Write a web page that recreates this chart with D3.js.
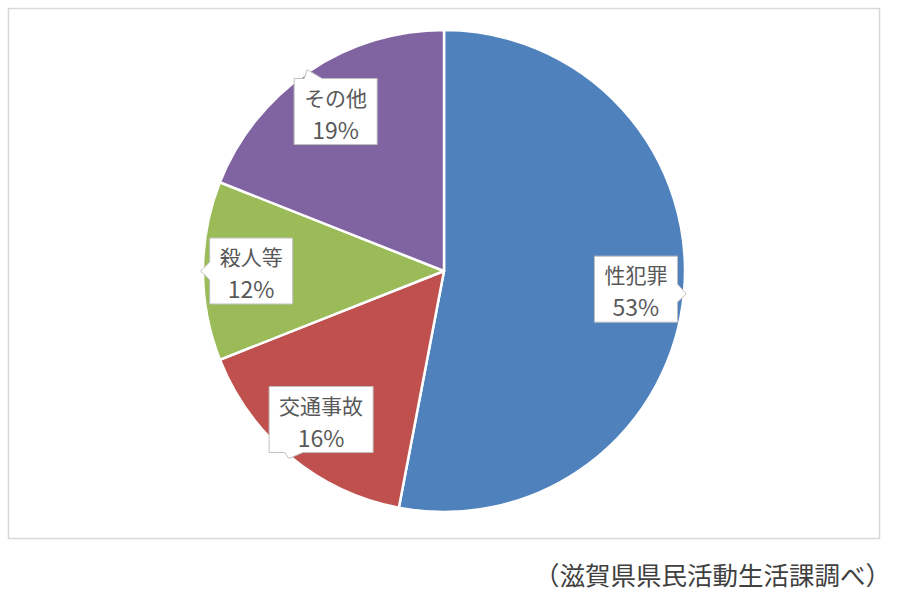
<!DOCTYPE html>
<html><head><meta charset="utf-8">
<script src="https://cdn.jsdelivr.net/npm/d3@7/dist/d3.min.js"></script>
<style>
html,body{margin:0;padding:0;background:#fff;}
svg{display:block;font-family:"Noto Sans CJK JP","Noto Sans",sans-serif;}
</style></head>
<body>
<svg id="chart" width="900" height="601"></svg>
<script>
const categories = ["性犯罪", "交通事故", "殺人等", "その他"];
const values = [53, 16, 12, 19];
const percentLabels = ["53%", "16%", "12%", "19%"];
const colors = ["#4F81BD", "#C0504D", "#9BBB59", "#8064A2"];
const caption = "（滋賀県県民活動生活課調べ）";

const svg = d3.select("#chart");
const cx = 444, cy = 271, R = 241;

// outer frame
svg.append("rect").attr("x", 8.5).attr("y", 8.5).attr("width", 871).attr("height", 530)
  .attr("fill", "#fff").attr("stroke", "#d9d9d9").attr("stroke-width", 1.5);

const pie = d3.pie().sort(null).value(d => d)(values);
const arc = d3.arc().innerRadius(0).outerRadius(R);
const g = svg.append("g").attr("transform", `translate(${cx},${cy})`);

g.selectAll("path.slice").data(pie).enter().append("path")
  .attr("class", "slice")
  .attr("d", arc)
  .attr("fill", (d, i) => colors[i])
  .attr("stroke", "#fff").attr("stroke-width", 2.5).attr("stroke-linejoin", "round");

// callout labels
const labelArc = d3.arc().innerRadius(R * 0.8).outerRadius(R * 0.8);
const tipR = R * 1.01;

function calloutPath(x0, y0, x1, y1, tx, ty) {
  const mx = (x0 + x1) / 2, my = (y0 + y1) / 2;
  const dx = tx - mx, dy = ty - my;
  const hw = (x1 - x0) / 2, hh = (y1 - y0) / 2;
  const bw = 9;
  let side;
  if (Math.abs(dx) / hw > Math.abs(dy) / hh) side = dx > 0 ? "right" : "left";
  else side = dy > 0 ? "bottom" : "top";
  const clampX = v => Math.max(x0 + bw + 4, Math.min(x1 - bw - 4, v));
  const clampY = v => Math.max(y0 + bw + 4, Math.min(y1 - bw - 4, v));
  const pts = [];
  pts.push([x0, y0]);
  if (side === "top") { const c = clampX(mx + dx * hh / Math.abs(dy)); pts.push([c - bw, y0], [tx, ty], [c + bw, y0]); }
  pts.push([x1, y0]);
  if (side === "right") { const c = clampY(my + dy * hw / Math.abs(dx)); pts.push([x1, c - bw], [tx, ty], [x1, c + bw]); }
  pts.push([x1, y1]);
  if (side === "bottom") { const c = clampX(mx + dx * hh / Math.abs(dy)); pts.push([c + bw, y1], [tx, ty], [c - bw, y1]); }
  pts.push([x0, y1]);
  if (side === "left") { const c = clampY(my + dy * hw / Math.abs(dx)); pts.push([x0, c + bw], [tx, ty], [x0, c - bw]); }
  return "M" + pts.map(p => p.join(",")).join("L") + "Z";
}

const labelG = svg.append("g");
pie.forEach((d, i) => {
  const [lx, ly] = labelArc.centroid(d);
  const bx = cx + lx, by = cy + ly;
  const mid = (d.startAngle + d.endAngle) / 2;
  const tx = cx + Math.sin(mid) * tipR, ty = cy - Math.cos(mid) * tipR;
  const grp = labelG.append("g");
  const box = grp.append("path");
  const t = grp.append("text").attr("text-anchor", "middle").attr("fill", "#595959");
  const s1 = t.append("tspan").attr("x", bx).attr("y", by - 6)
    .attr("font-size", 21).text(categories[i]);
  const s2 = t.append("tspan").attr("x", bx).attr("y", by + 27)
    .attr("font-size", 23).text(percentLabels[i]);
  const w = Math.max(s1.node().getComputedTextLength(), s2.node().getComputedTextLength()) + 20;
  const h = 66;
  box.attr("d", calloutPath(bx - w / 2, by - h / 2, bx + w / 2, by + h / 2, tx, ty))
    .attr("fill", "#fff").attr("stroke", "#bfbfbf").attr("stroke-width", 1);
});

// caption
svg.append("text").attr("x", 891).attr("y", 585).attr("text-anchor", "end")
  .attr("font-size", 25.5).attr("fill", "#404040").text(caption);
</script>
</body></html>
